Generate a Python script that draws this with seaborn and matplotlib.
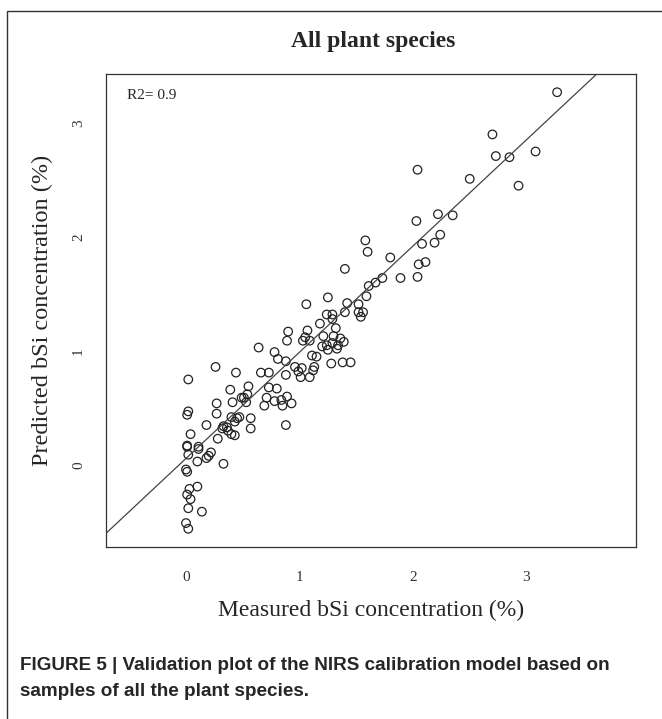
import numpy as np
import pandas as pd
import matplotlib
matplotlib.use("Agg")
import matplotlib.pyplot as plt
import seaborn as sns
from matplotlib.patches import Rectangle

measured = [0.02, 0.26, 0.44, 0.39, 0.55, 0.54, 0.49, 0.51, 0.53, 0.41, 0.27, 0.02, 0.01, 0.27,
            0.40, 0.45, 0.43, 0.36, 0.32, 0.33, 0.37, 0.40, 0.43, 0.47, 0.57, 0.57, 0.18, 0.04,
            0.28, 0.11, 0.11, 0.01, 0.01, 0.02, 0.18, 0.20, 0.22, 0.10, 0.33, 0.00, 0.01, 0.03,
            0.10, 0.01, 0.04, 0.02, 0.14, 0.00, 0.02,
            0.64, 0.78, 0.81, 0.88, 0.90, 0.89, 0.66, 0.73, 0.88, 0.73, 0.80, 0.71, 0.69, 0.78,
            0.84, 0.89, 0.85, 0.93, 0.88, 0.96, 1.02, 0.99, 1.13, 1.12, 1.01, 1.09, 1.11, 1.15,
            1.28, 1.38, 1.45, 1.07, 1.05, 1.03, 1.09, 1.21, 1.30, 1.36, 1.39, 1.29, 1.24, 1.34,
            1.20, 1.25, 1.33, 1.18, 1.32, 1.24, 1.29, 1.29, 1.06, 1.25, 1.42, 1.40, 1.40,
            1.52, 1.52, 1.56, 1.54, 1.59, 1.61, 1.67, 1.73, 1.89, 2.04, 2.05, 2.11, 1.80, 1.58,
            1.60, 2.08, 2.24, 2.19, 2.03, 2.22, 2.35, 2.04, 2.50, 2.70, 2.73, 2.85, 3.08, 2.93,
            3.27]
predicted = [0.75, 0.86, 0.81, 0.66, 0.69, 0.62, 0.59, 0.59, 0.55, 0.55, 0.54, 0.47, 0.44, 0.45,
             0.42, 0.41, 0.38, 0.33, 0.32, 0.34, 0.30, 0.27, 0.26, 0.42, 0.41, 0.32, 0.35, 0.27,
             0.23, 0.16, 0.14, 0.17, 0.16, 0.09, 0.06, 0.08, 0.11, 0.03, 0.01, -0.04, -0.06, -0.21,
             -0.19, -0.26, -0.30, -0.38, -0.41, -0.51, -0.56,
             1.03, 0.99, 0.93, 0.91, 1.17, 1.09, 0.81, 0.81, 0.79, 0.68, 0.67, 0.59, 0.52, 0.56,
             0.57, 0.60, 0.52, 0.54, 0.35, 0.86, 0.85, 0.82, 0.86, 0.83, 0.77, 0.77, 0.96, 0.95,
             0.89, 0.90, 0.90, 1.18, 1.12, 1.09, 1.09, 1.13, 1.13, 1.11, 1.08, 1.07, 1.05, 1.05,
             1.04, 1.01, 1.02, 1.24, 1.20, 1.32, 1.32, 1.28, 1.41, 1.47, 1.42, 1.34, 1.72,
             1.41, 1.34, 1.34, 1.30, 1.48, 1.57, 1.60, 1.64, 1.64, 1.65, 1.76, 1.78, 1.82, 1.97,
             1.87, 1.94, 2.02, 1.95, 2.14, 2.20, 2.19, 2.59, 2.51, 2.90, 2.71, 2.70, 2.75, 2.45,
             3.27]

fit_intercept = 0.057
fit_slope = 0.932
r2_label = "R2= 0.9"
x_ticks = [0, 1, 2, 3]
y_ticks = [0, 1, 2, 3]

df = pd.DataFrame({"Measured": measured, "Predicted": predicted})

sns.set_style("white")
plt.rcParams["font.family"] = ["Liberation Serif", "DejaVu Serif"]

fig = plt.figure(figsize=(6.62, 7.19), dpi=100)
ax = fig.add_axes([106/662, 1-547/719, (636-106)/662, (547-74)/719])

sns.scatterplot(data=df, x="Measured", y="Predicted", ax=ax, marker="o", s=38,
                facecolor="none", edgecolor="#222222", linewidth=0.9, legend=False)
ax.axline((0, fit_intercept), slope=fit_slope, color="#444444", linewidth=0.9)

ax.set_xlim(-0.705, 3.965)
ax.set_ylim(-0.72, 3.43)
ax.set_xticks(x_ticks)
ax.set_yticks(y_ticks)
ax.set_xticklabels([str(t) for t in x_ticks])
ax.set_yticklabels([str(t) for t in y_ticks], rotation=90, va="center")
ax.tick_params(axis="x", direction="out", length=7, width=0.8, color="#333333",
               labelsize=11, labelcolor="#333333", pad=10)
ax.tick_params(axis="y", direction="out", length=7, width=0.8, color="#333333",
               labelsize=11, labelcolor="#333333", pad=8)
for s in ax.spines.values():
    s.set_color("#333333")
    s.set_linewidth(0.9)

ax.set_xlabel("Measured bSi concentration (%)", fontsize=17, labelpad=12)
ax.set_ylabel("Predicted bSi concentration (%)", fontsize=17.5, labelpad=14)
ax.text(0.04, 0.955, r2_label, transform=ax.transAxes, fontsize=11, ha="left", va="center")

fig.text(373/662, 1-42/719, "All plant species", ha="center", va="center",
         fontsize=17, fontweight="bold")

fig.text(20/662, 1-665/719, "FIGURE 5 | Validation plot of the NIRS calibration model based on",
         ha="left", va="center", fontsize=13.6, fontweight="bold",
         family=["Liberation Sans", "DejaVu Sans"])
fig.text(20/662, 1-691/719, "samples of all the plant species.",
         ha="left", va="center", fontsize=13.6, fontweight="bold",
         family=["Liberation Sans", "DejaVu Sans"])

fig.add_artist(Rectangle((7/662, -0.05), 1.2, 1.05 - 11/719, transform=fig.transFigure,
                         fill=False, edgecolor="#333333", linewidth=1.0))

fig.savefig("out.png", dpi=100)
